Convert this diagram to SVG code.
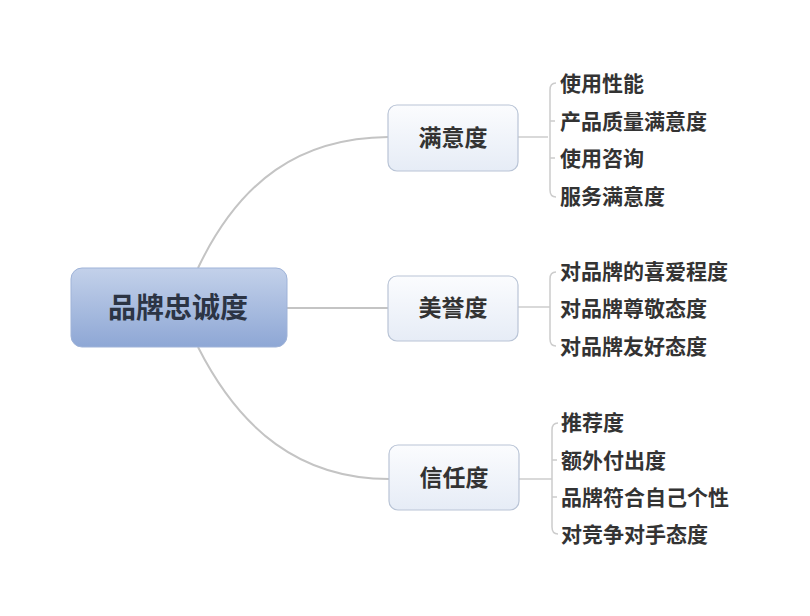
<svg xmlns="http://www.w3.org/2000/svg" width="810" height="616" viewBox="0 0 810 616">
<defs>
<linearGradient id="rootGrad" x1="0" y1="0" x2="0" y2="1">
<stop offset="0" stop-color="#c3d1ea"/>
<stop offset="1" stop-color="#8ea7d5"/>
</linearGradient>
<linearGradient id="subGrad" x1="0" y1="0" x2="0" y2="1">
<stop offset="0" stop-color="#fbfcfe"/>
<stop offset="1" stop-color="#e6ecf6"/>
</linearGradient>
<style>
.txt{font-family:"Noto Sans CJK SC","Liberation Sans",sans-serif;fill:#333333;font-weight:bold}
.leaf{font-size:21px}
.sub{font-size:23px;text-anchor:middle}
.root{font-size:28px;text-anchor:middle;fill:#2c3444}
.conn{fill:none;stroke:#c4c4c4;stroke-width:2}
.br{fill:none;stroke:#cccccc;stroke-width:1.5}
.subBox{fill:url(#subGrad);stroke:#b9c4d6;stroke-width:1.2}
</style>
</defs>
<rect width="810" height="616" fill="#ffffff"/>
<g id="connectors">
<path class="conn" d="M198,268 C240,180 300,138 388,137"/>
<path class="conn" d="M287,308 L388,308"/>
<path class="conn" d="M198,347 C240,430 300,479 389,479"/>
<path class="br" d="M518,137 L548,137"/>
<path class="br" d="M556,83 Q550,83 550,90 L550,190 Q550,197 556,197"/>
<path class="br" d="M550,121 L555,121 M550,158 L555,158"/>
<path class="br" d="M518,307 L550,307"/>
<path class="br" d="M556,272 Q550,272 550,279 L550,339 Q550,346 556,346"/>
<path class="br" d="M519,479 L552,479"/>
<path class="br" d="M558,423 Q552,423 552,430 L552,527 Q552,534 558,534"/>
<path class="br" d="M552,460 L557,460 M552,497 L557,497"/>
</g>
<g id="root">
<rect x="71" y="268" width="216" height="79" rx="11" fill="url(#rootGrad)" stroke="#9fb3d8" stroke-width="1"/>
<text class="txt root" x="178" y="318">品牌忠诚度</text>
</g>
<g id="n-manyi">
<rect class="subBox" x="388" y="105" width="130" height="66" rx="9"/>
<text class="txt sub" x="453" y="146">满意度</text>
</g>
<g id="n-meiyu">
<rect class="subBox" x="388" y="276" width="130" height="65" rx="9"/>
<text class="txt sub" x="453" y="316">美誉度</text>
</g>
<g id="n-xinren">
<rect class="subBox" x="389" y="445" width="130" height="65" rx="9"/>
<text class="txt sub" x="454" y="486">信任度</text>
</g>
<g id="leaves-manyi">
<text class="txt leaf" x="560" y="91">使用性能</text>
<text class="txt leaf" x="560" y="129">产品质量满意度</text>
<text class="txt leaf" x="560" y="166">使用咨询</text>
<text class="txt leaf" x="560" y="204">服务满意度</text>
</g>
<g id="leaves-meiyu">
<text class="txt leaf" x="560" y="279">对品牌的喜爱程度</text>
<text class="txt leaf" x="560" y="316">对品牌尊敬态度</text>
<text class="txt leaf" x="560" y="354">对品牌友好态度</text>
</g>
<g id="leaves-xinren">
<text class="txt leaf" x="561" y="430">推荐度</text>
<text class="txt leaf" x="561" y="468">额外付出度</text>
<text class="txt leaf" x="561" y="505">品牌符合自己个性</text>
<text class="txt leaf" x="561" y="542">对竞争对手态度</text>
</g>
</svg>
